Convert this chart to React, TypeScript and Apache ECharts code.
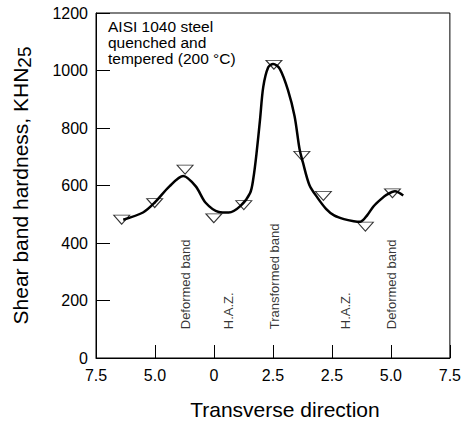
import React, { useEffect, useRef } from "react";
import * as echarts from "echarts";

// Tick labels along the transverse direction (mm from centre, both sides)
const xTickLabels = ["7.5", "5.0", "0", "2.5", "2.5", "5.0", "7.5"];

// Measured hardness points (triangles)
const pointX = [0.436, 0.995, 1.51, 1.998, 2.506, 3.017, 3.49, 3.855, 4.567, 5.027];
const pointY = [481, 539, 655, 486, 532, 1020, 703, 564, 457, 573];

// Fitted smooth curve
const curveX = [0.462, 0.797, 0.993, 1.245, 1.479, 1.692, 1.859, 2.082, 2.25, 2.446, 2.613, 2.668, 2.724, 2.781, 2.836, 2.92, 3.003, 3.116, 3.255, 3.367, 3.451, 3.506, 3.618, 3.757, 3.9, 4.037, 4.204, 4.37, 4.482, 4.6, 4.707, 4.83, 4.93, 5.069, 5.209];
const curveY = [481, 506, 540, 597, 633, 597, 540, 508, 506, 528, 574, 625, 716, 829, 943, 1011, 1023, 1006, 932, 841, 727, 682, 602, 557, 519, 496, 483, 476, 474, 497, 528, 552, 568, 580, 565];

// Zone annotations
const annoLabels = ["Deformed band", "H.A.Z.", "Transformed band", "H.A.Z.", "Deformed band"];
const annoX = [1.524, 2.25, 3.02, 4.231, 5.013];
const annoBase = 100;

const noteLines = ["AISI 1040 steel", "quenched and", "tempered (200 °C)"];

export default function App() {
  const ref = useRef<HTMLDivElement>(null);
  useEffect(() => {
    document.body.style.margin = "0";
    if (!ref.current) return;
    const chart = echarts.init(ref.current, undefined, { renderer: "svg" });
    const font = "'Liberation Sans', Arial, Helvetica, sans-serif";
    chart.setOption({
      animation: false,
      textStyle: { fontFamily: font, color: "#000" },
      grid: {
        left: 96,
        right: 10,
        top: 13,
        bottom: 60,
        show: true,
        borderColor: "#000",
        borderWidth: 1,
        containLabel: false,
      },
      xAxis: {
        type: "value",
        min: 0,
        max: 6,
        interval: 1,
        name: "Transverse direction",
        nameLocation: "middle",
        nameGap: 41,
        nameTextStyle: { fontSize: 21, color: "#000", fontFamily: font, padding: [0, 0, 0, 24] },
        axisLine: { show: true, lineStyle: { color: "#000", width: 1 } },
        axisTick: { show: true, inside: true, length: 13, lineStyle: { color: "#000", width: 1 } },
        axisLabel: {
          fontSize: 16,
          color: "#000",
          margin: 9,
          fontFamily: font,
          formatter: (v: number) => xTickLabels[Math.round(v)] ?? "",
        },
        splitLine: { show: false },
      },
      yAxis: {
        type: "value",
        min: 0,
        max: 1200,
        interval: 200,
        name: "{a|Shear band hardness, KHN}{b|25}",
        nameLocation: "middle",
        nameGap: 62,
        nameTextStyle: {
          color: "#000",
          fontFamily: font,
          rich: {
            a: { fontSize: 21, lineHeight: 28, color: "#000", fontFamily: font },
            b: { fontSize: 19, lineHeight: 19, verticalAlign: "bottom", color: "#000", fontFamily: font },
          },
        },
        axisLine: { show: true, lineStyle: { color: "#000", width: 1 } },
        axisTick: { show: true, inside: true, length: 14, lineStyle: { color: "#000", width: 1 } },
        axisLabel: {
          fontSize: 16,
          color: "#000",
          margin: 8,
          fontFamily: font,
          formatter: (v: number) => String(v),
        },
        splitLine: { show: false },
      },
      graphic: [
        {
          type: "text",
          left: 108,
          top: 18,
          style: {
            text: noteLines.join("\n"),
            font: `15.5px ${font}`,
            lineHeight: 16,
            fill: "#000",
          },
        },
      ],
      series: [
        {
          type: "scatter",
          data: pointX.map((x, i) => [x, pointY[i]]),
          symbol: "triangle",
          symbolRotate: 180,
          symbolSize: [16, 9],
          itemStyle: { color: "#fff", borderColor: "#000", borderWidth: 1 },
          z: 2,
        },
        {
          type: "line",
          data: curveX.map((x, i) => [x, curveY[i]]),
          smooth: 0.3,
          showSymbol: false,
          symbol: "none",
          lineStyle: { color: "#000", width: 2.5 },
          z: 3,
        },
        {
          type: "scatter",
          data: annoX.map((x, i) => ({ value: [x, annoBase], name: annoLabels[i] })),
          symbolSize: 0,
          itemStyle: { color: "transparent" },
          label: {
            show: true,
            formatter: (p: any) => p.name,
            position: [0, 0],
            rotate: 90,
            align: "left",
            verticalAlign: "middle",
            fontSize: 13,
            color: "#000",
            fontFamily: font,
          },
          z: 4,
        },
      ],
    });
    return () => chart.dispose();
  }, []);
  return <div ref={ref} style={{ width: 464, height: 425 }} />;
}
